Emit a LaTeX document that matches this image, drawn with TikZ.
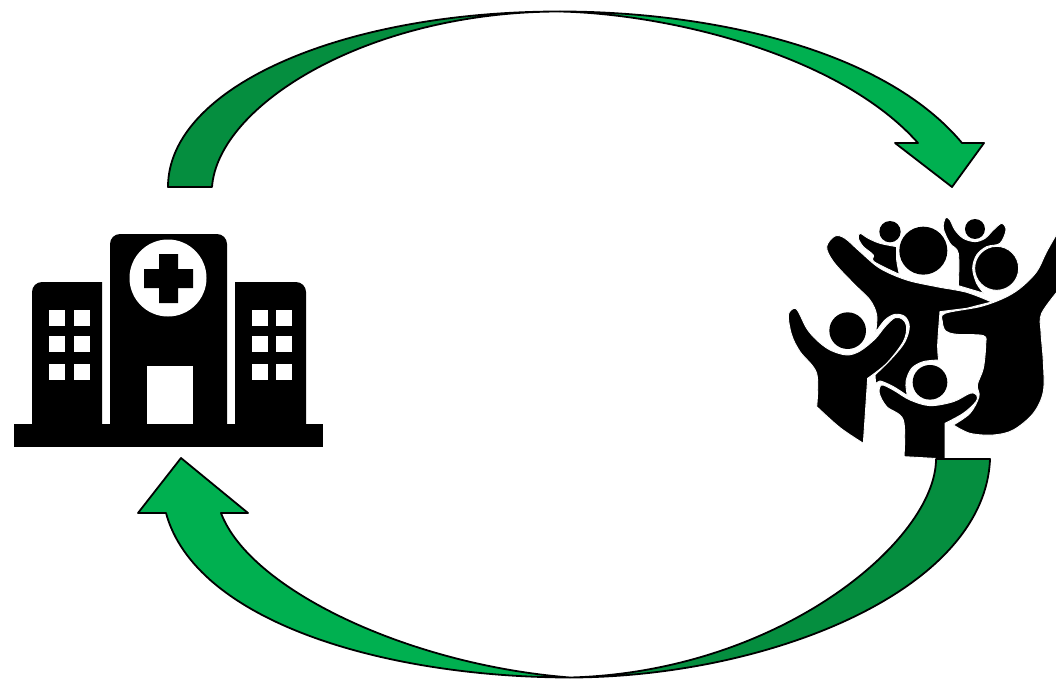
\documentclass[tikz,border=0pt]{standalone}
\definecolor{arrdark}{HTML}{058E3F}
\definecolor{arrlight}{HTML}{00B050}
\begin{document}
\begin{tikzpicture}[
        x=1pt, y=-1pt,
        blackpart/.style={fill=black},
        whitepart/.style={fill=white},
        figure/.style={fill=black, draw=white, line width=0.9pt, line join=miter},
        curved/.style={smooth, tension=0.55},
        darkarrow/.style={fill=arrdark, draw=black, line width=1.8pt, line join=round},
        lightarrow/.style={fill=arrlight, draw=black, line width=1.8pt, line join=round}
    ]
    \useasboundingbox (0,0) rectangle (1056,679);

    % Hospital
    \fill[blackpart] (14,424) rectangle (323,447);
    \fill[blackpart] (32,426) [rounded corners=10pt] -- (32,282) [sharp corners] -- (102,282) -- (102,426) -- cycle;
    \fill[blackpart] (235,426) -- (235,282) [rounded corners=10pt] -- (306,282) [sharp corners] -- (306,426) -- cycle;
    \fill[blackpart] (110,426) [rounded corners=10pt] -- (110,234) -- (227,234) [sharp corners] -- (227,426) -- cycle;
    \fill[whitepart] (168,278) circle (38.5);
    \fill[blackpart] (159,254) -- (178,254) -- (178,269) -- (193,269) -- (193,288) -- (178,288)
        -- (178,303) -- (159,303) -- (159,288) -- (144,288) -- (144,269) -- (159,269) -- cycle;
    \fill[whitepart] (147,366) rectangle (193,424);
    \foreach \wx in {49,74,252,276}
        \foreach \wy in {310,336,364}
            \fill[whitepart] (\wx,\wy) rectangle ++(16,16);

    % Crowd
    \begin{scope}[shift={(780,205)}, x=0.3333pt, y=-0.3333pt]
        % big figure
        \fill[blackpart] (430,137) circle (72);
        \draw[figure] plot[curved] coordinates {
            (635,291) (560,262) (470,245) (380,225) (300,190) (240,140) (195,100)
            (165,93) (140,125) (160,170) (220,235) (270,285) (290,330) (287,382)}
            -- plot[curved] coordinates {
            (287,382) (315,345) (345,328) (375,335) (388,365) (375,410) (340,455) (285,510)}
            -- (287,538) -- plot[curved] coordinates {
            (287,538) (300,528) (340,545) (382,572)}
            -- plot[curved] coordinates {
            (382,572) (378,530) (395,490) (430,470) (476,465)}
            -- plot[curved] coordinates {
            (476,465) (473,420) (480,320)} -- (560,310) -- cycle;
        % right figure
        \draw[figure] plot[curved] coordinates {
            (840,70) (800,140) (770,200) (720,250) (670,280) (600,305) (495,325) (487,350) (497,378)
            (530,388) (610,392) (617,420) (610,490) (592,540) (597,575) (570,625) (520,660)}
            -- plot[curved] coordinates {
            (520,660) (570,685) (640,690) (700,675) (760,625) (790,560) (790,470) (783,380) (785,325) (840,250)}
            -- cycle;
        % left figure
        \fill[blackpart] (203,377) circle (55);
        \draw[figure] plot[curved] coordinates {
            (110,605) (110,505) (60,440) (35,390) (25,330) (42,310) (55,320) (80,370) (110,405)
            (150,435) (200,450) (240,438) (285,402) (315,365) (345,338) (368,343) (380,365) (370,410)
            (320,475) (263,520)} -- (250,715) -- plot[curved] coordinates {
            (250,715) (180,668) (110,605)} -- cycle;
        % bottom figure
        \fill[blackpart] (450,532) circle (52);
        \draw[figure] plot[curved] coordinates {
            (372,755) (370,645) (320,605) (298,565) (305,540) (340,555) (390,585) (450,602) (520,590)
            (570,565) (590,570) (588,590) (550,625) (495,655)} -- (495,762) -- cycle;
        % small figures on top
        \fill[blackpart] (330,80) circle (32);
        \draw[figure] plot[curved] coordinates {
            (358,208) (282,170) (280,150) (250,125) (235,100) (240,85) (265,100) (300,115) (350,125)}
            -- plot[curved] coordinates {(350,125) (350,165) (358,208)} -- cycle;
        \fill[blackpart] (585,72) circle (30);
        \draw[figure] plot[curved] coordinates {
            (535,242) (535,145) (510,115) (490,70) (497,38) (510,45) (525,75) (550,100) (585,110)
            (615,100) (640,75) (665,55) (678,75) (660,115) (620,125) (590,150) (578,190) (590,235)
            (612,265)} -- cycle;
        \draw[figure] (650,190) circle (66);
    \end{scope}

    % Top arrow
    \draw[darkarrow] (168,187) .. controls (168,88) and (340,11.5) .. (560,11.5)
        .. controls (368,11.5) and (218,105) .. (212,187) -- cycle;
    \draw[lightarrow] (560,11.5) .. controls (700,11.5) and (880,45) .. (962,143)
        -- (984,143) -- (952,187) -- (895,143) -- (918,143)
        .. controls (840,55) and (670,14) .. (560,11.5) -- cycle;

    % Bottom arrow
    \draw[darkarrow] (990,459) .. controls (985,590) and (770,677) .. (570,677.5)
        .. controls (780,672) and (936,540) .. (936,459) -- cycle;
    \draw[lightarrow] (570,677.5) .. controls (380,677) and (195,620) .. (166,513)
        -- (138,513) -- (181,458) -- (248,513) -- (221,513)
        .. controls (250,590) and (410,665) .. (570,677.5) -- cycle;

\end{tikzpicture}
\end{document}
